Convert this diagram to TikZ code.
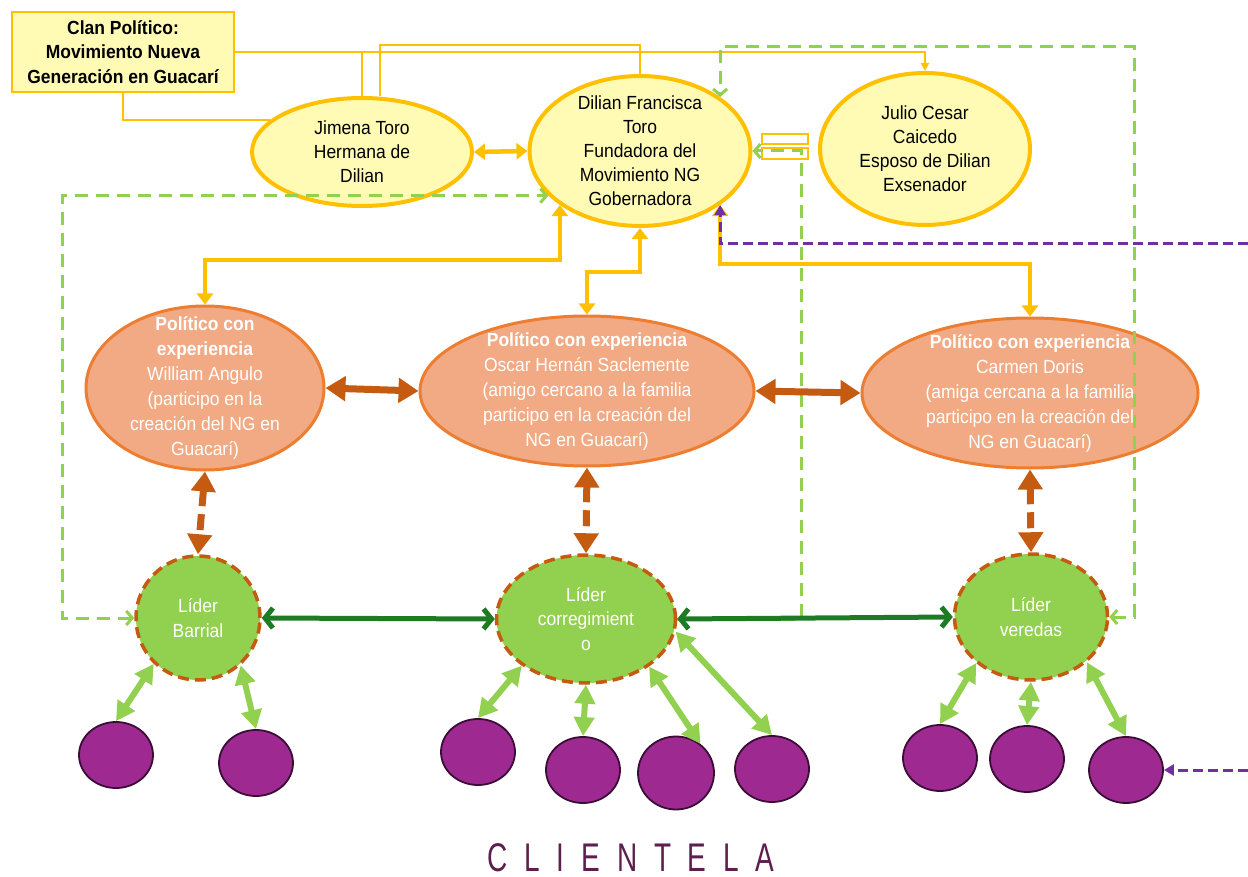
\documentclass[tikz,border=0pt]{standalone}
\usepackage{fontspec}
\setmainfont{Liberation Sans}[FakeStretch=0.92]
\newfontfamily\clientfont{Liberation Sans}[FakeStretch=0.7,LetterSpace=42]
\usepackage{tikz}
\usetikzlibrary{positioning,shapes,arrows.meta,calc}

\definecolor{gold}{HTML}{FFC000}
\definecolor{paleyellow}{HTML}{FFFBB5}
\definecolor{orangeline}{HTML}{ED7D31}
\definecolor{salmon}{HTML}{F1AA84}
\definecolor{rust}{HTML}{C55A11}
\definecolor{leafgreen}{HTML}{92D050}
\definecolor{darkgreen}{HTML}{1E7B24}
\definecolor{plum}{HTML}{9E2A91}
\definecolor{plumline}{HTML}{3B0C35}
\definecolor{violet}{HTML}{7030A0}
\definecolor{wine}{HTML}{5C1F4E}

\tikzstyle{clanbox}    = [rectangle, draw=gold, line width=2.5pt, fill=paleyellow, minimum width=222pt, minimum height=80pt, align=center, font=\bfseries\fontsize{19}{24.5}\selectfont]
\tikzstyle{familia}    = [ellipse, draw=gold, line width=4pt, fill=paleyellow, inner sep=-20pt, align=center, font=\fontsize{19}{24}\selectfont]
\tikzstyle{politico}   = [ellipse, draw=orangeline, line width=3pt, fill=salmon, text=white, inner sep=-20pt, align=center, font=\fontsize{19}{25}\selectfont]
\tikzstyle{lider}      = [ellipse, draw=rust, line width=3.5pt, dash pattern=on 11pt off 6pt, fill=leafgreen, text=white, inner sep=-10pt, align=center, font=\fontsize{19}{24.5}\selectfont]
\tikzstyle{cliente}    = [ellipse, draw=plumline, line width=1.8pt, fill=plum, minimum width=74pt, minimum height=66pt]
\tikzstyle{goldline}   = [draw=gold, line width=2pt]
\tikzstyle{goldarrow}  = [draw=gold, line width=4.5pt, <->, >={Triangle[length=11pt,width=16pt]}]
\tikzstyle{rustarrow}  = [draw=rust, line width=7pt, <->, >={Triangle[length=20pt,width=24pt]}]
\tikzstyle{greenarrow} = [draw=darkgreen, line width=5pt, <->, >={Straight Barb[length=8pt,width=20pt]}]
\tikzstyle{kidarrow}   = [draw=leafgreen, line width=6pt, <->, >={Triangle[length=19pt,width=20pt]}]
\tikzstyle{greendash}  = [draw=leafgreen, line width=3pt, dash pattern=on 13pt off 8pt, >={Straight Barb[length=6pt,width=14pt]}]
\tikzstyle{purpledash} = [draw=violet, line width=3pt, dash pattern=on 10pt off 5pt, ->, >={Triangle[length=10pt,width=11pt]}]

\begin{document}
\begin{tikzpicture}[x=1pt, y=-1pt]
    \useasboundingbox (0,0) rectangle (1248,877);

    % familia
    \node[clanbox] (clan) at (123,52) {Clan Político:\\Movimiento Nueva\\Generación en Guacarí};
    \node[familia, minimum width=220pt, minimum height=108pt] (jimena) at (362,152) {Jimena Toro\\Hermana de\\Dilian};
    \node[familia, minimum width=221pt, minimum height=150pt] (dilian) at (640,151) {Dilian Francisca\\Toro\\Fundadora del\\Movimiento NG\\Gobernadora};
    \node[familia, minimum width=210pt, minimum height=152pt] (julio) at (925,149) {Julio Cesar\\Caicedo\\Esposo de Dilian\\Exsenador};

    % politicos
    \node[politico, minimum width=238pt, minimum height=164pt] (william) at (205,388) {\textbf{Político con}\\\textbf{experiencia}\\William Angulo\\(participo en la\\creación del NG en\\Guacarí)};
    \node[politico, minimum width=334pt, minimum height=150pt] (oscar) at (587,391) {\textbf{Político con experiencia}\\Oscar Hernán Saclemente\\(amigo cercano a la familia\\participo en la creación del\\NG en Guacarí)};
    \node[politico, minimum width=336pt, minimum height=150pt] (carmen) at (1030,393) {\textbf{Político con experiencia}\\Carmen Doris\\(amiga cercana a la familia\\participo en la creación del\\NG en Guacarí)};

    % lideres
    \node[lider, minimum width=124pt, minimum height=124pt] (lbarrial) at (198,618) {Líder\\Barrial};
    \node[lider, minimum width=179pt, minimum height=128pt] (lcorreg) at (586,619) {Líder\\corregimient\\o};
    \node[lider, minimum width=153pt, minimum height=126pt] (lveredas) at (1031,617) {Líder\\veredas};

    % clientela
    \node[cliente] (c1) at (116,755) {};
    \node[cliente] (c2) at (256,763) {};
    \node[cliente] (c3) at (478,752) {};
    \node[cliente] (c4) at (583,770) {};
    \node[cliente, minimum width=76pt, minimum height=73pt] (c5) at (676,773) {};
    \node[cliente] (c6) at (772,769) {};
    \node[cliente] (c7) at (940,758) {};
    \node[cliente] (c8) at (1027,759) {};
    \node[cliente] (c9) at (1126,770) {};
    \node[text=wine, inner sep=0pt, anchor=base, font=\clientfont\fontsize{40}{40}\selectfont] (clientela) at (631,871) {CLIENTELA};

    \coordinate (vtop) at (1134,47);
    \coordinate (pr1) at (1248,244);
    \coordinate (pr2) at (1248,770);

    % lineas del clan
    \draw[goldline] (clan.east) -| (jimena.north);
    \draw[goldline, ->, >={Triangle[length=8pt,width=8pt]}] (clan.east) -| (julio.north);
    \draw[goldline] ([xshift=18pt]jimena.north) -- ++(0,-51) -| (dilian.north);
    \draw[goldline] (clan.south) |- (jimena.161);
    \draw[goldline] (762,134) rectangle (808,144);
    \draw[goldline] (762,148) rectangle (808,159);

    % punteadas
    \draw[greendash, <->] (lbarrial.west) -- ++(-72,0) |- (dilian.206);
    \draw[greendash, <->] (lveredas.east) -| (vtop) -| (dilian.34);
    \draw[greendash, ->] (lcorreg.east) -- ++(124,0) |- (dilian.east);

    % familia a politicos
    \draw[goldarrow] (jimena.east) -- (dilian.west);
    \draw[goldarrow] (dilian.-146) -- ++(0,55) -| (william.north);
    \draw[goldarrow] (dilian.south) -- ++(0,44) -| (oscar.north);
    \draw[goldarrow] (dilian.-34) -- ++(0,59) -| (carmen.north);
    \draw[purpledash] (pr1) -| (dilian.-34);
    \draw[purpledash] (pr2) -- (c9.east);

    % politicos a lideres
    \draw[rustarrow] (william.east) -- (oscar.west);
    \draw[rustarrow] (oscar.east) -- (carmen.west);
    \draw[rustarrow, dash pattern=on 16pt off 8pt] (william.south) -- (lbarrial.north);
    \draw[rustarrow, dash pattern=on 16pt off 8pt] (oscar.south) -- (lcorreg.north);
    \draw[rustarrow, dash pattern=on 16pt off 8pt] (carmen.south) -- (lveredas.north);

    \draw[greenarrow] (lbarrial.east) -- (lcorreg.west);
    \draw[greenarrow] (lcorreg.east) -- (lveredas.west);

    % lideres a clientela
    \draw[kidarrow] (lbarrial.-134) -- (c1.north);
    \draw[kidarrow] (lbarrial.-48) -- (c2.north);
    \draw[kidarrow] (lcorreg.-144) -- (c3.north);
    \draw[kidarrow] (lcorreg.south) -- (c4.north);
    \draw[kidarrow] (lcorreg.-37) -- (c5.50);
    \draw[kidarrow] (lcorreg.-8) -- (c6.north);
    \draw[kidarrow] (lveredas.-140) -- (c7.north);
    \draw[kidarrow] (lveredas.south) -- (c8.north);
    \draw[kidarrow] (lveredas.-39) -- (c9.north);
\end{tikzpicture}
\end{document}
